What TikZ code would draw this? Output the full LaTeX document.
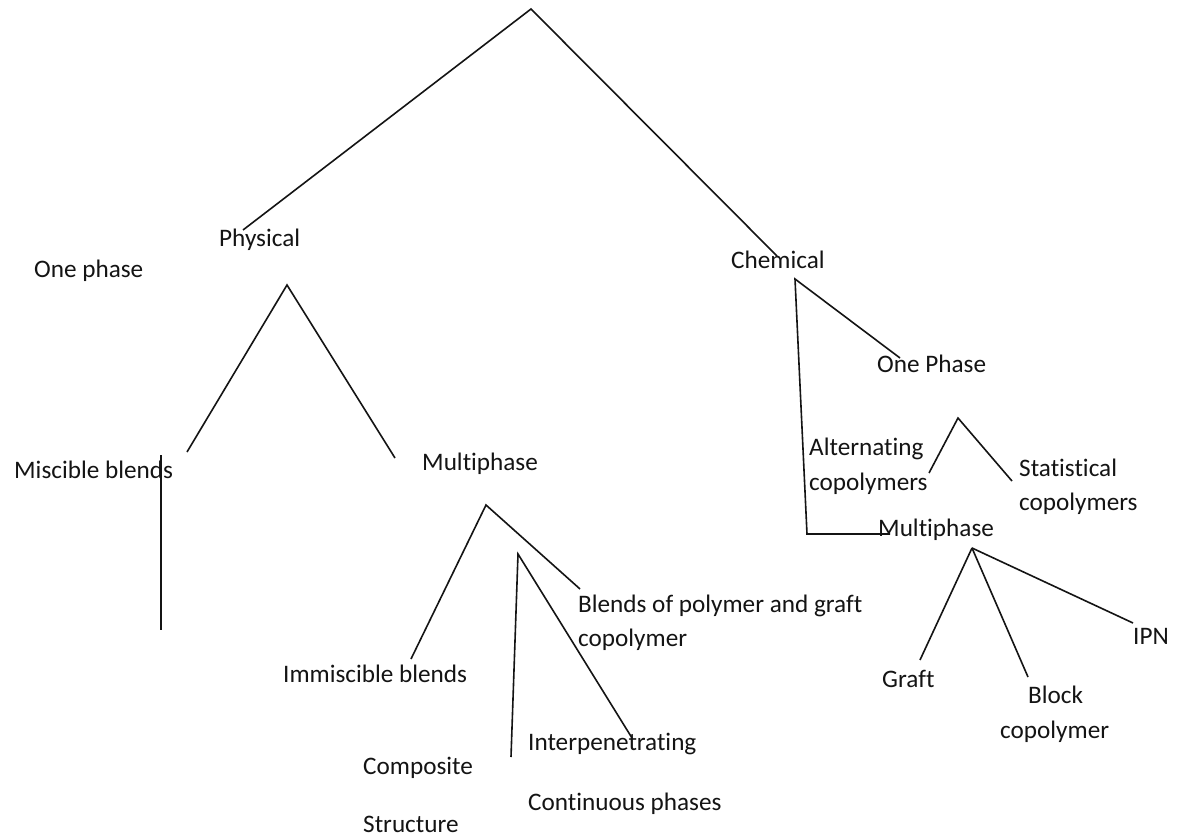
\documentclass[tikz,border=0pt]{standalone}
\usepackage{fontspec}
\setmainfont{Carlito}[Ligatures={NoCommon,NoRare,NoContextual}]
\begin{document}
\begin{tikzpicture}[x=1pt,y=-1pt,
  lbl/.style={anchor=base west,inner sep=0pt,font=\fontsize{25.2}{30}\selectfont,text=black!92},
  link/.style={line width=1.6pt,draw=black!92}]
\useasboundingbox[fill=white] (0,0) rectangle (1178,837);
% labels
\node[lbl] (phys) at (219,247) {Physical};
\node[lbl] (onep) at (34,277) {One phase};
\node[lbl] (chem) at (731,269) {Chemical};
\node[lbl] (misc) at (14,478) {Miscible blends};
\node[lbl] (mpl) at (422,470) {Multiphase};
\node[lbl] (bl1) at (578,612) {Blends of polymer and graft};
\node[lbl] (bl2) at (578,646) {copolymer};
\node[lbl] (imm) at (283,682) {Immiscible blends};
\node[lbl] (int1) at (528,750) {Interpenetrating};
\node[lbl] (comp1) at (363,774) {Composite};
\node[lbl] (int2) at (528,810) {Continuous phases};
\node[lbl] (comp2) at (363,832) {Structure};
\node[lbl] (oneP) at (877,372) {One Phase};
\node[lbl] (alt1) at (809,455) {Alternating};
\node[lbl] (alt2) at (809,490) {copolymers};
\node[lbl] (st1) at (1019,476) {Statistical};
\node[lbl] (st2) at (1019,510) {copolymers};
\node[lbl] (mpr) at (878,536) {Multiphase};
\node[lbl] (graft) at (882,687) {Graft};
\node[lbl] (blk1) at (1028,703) {Block};
\node[lbl] (blk2) at (1000,738) {copolymer};
\node[lbl] (ipn) at (1133,644) {IPN};
% coordinates
\coordinate (root) at (531,9);
\coordinate (physT) at (243,230);
\coordinate (chemT) at (777,256);
\coordinate (physA) at (287,285);
\coordinate (physL) at (187,452);
\coordinate (physR) at (395,458);
\coordinate (miscT) at (161,455);
\coordinate (miscB) at (161,630);
\coordinate (mpA) at (486,505);
\coordinate (mpL) at (411,659);
\coordinate (mpR) at (580,589);
\coordinate (mp2A) at (518,554);
\coordinate (mp2V) at (511,757);
\coordinate (mp2D) at (632,738);
\coordinate (chemA) at (795,279);
\coordinate (chemD) at (900,358);
\coordinate (chemV) at (807,534);
\coordinate (chemH) at (890,534);
\coordinate (opA) at (958,418);
\coordinate (opL) at (929,473);
\coordinate (opR) at (1012,481);
\coordinate (mrA) at (972,548);
\coordinate (mrG) at (920,660);
\coordinate (mrB) at (1028,677);
\coordinate (mrI) at (1133,623);
% connectors
\draw[link] (physT) -- (root) -- (chemT);
\draw[link] (physL) -- (physA) -- (physR);
\draw[link] (miscT) -- (miscB);
\draw[link] (mpL) -- (mpA) -- (mpR);
\draw[link] (mp2V) -- (mp2A) -- (mp2D);
\draw[link] (chemD) -- (chemA) -- (chemV) -- (chemH);
\draw[link] (opL) -- (opA) -- (opR);
\draw[link] (mrA) -- (mrG);
\draw[link] (mrA) -- (mrB);
\draw[link] (mrA) -- (mrI);
\end{tikzpicture}
\end{document}
